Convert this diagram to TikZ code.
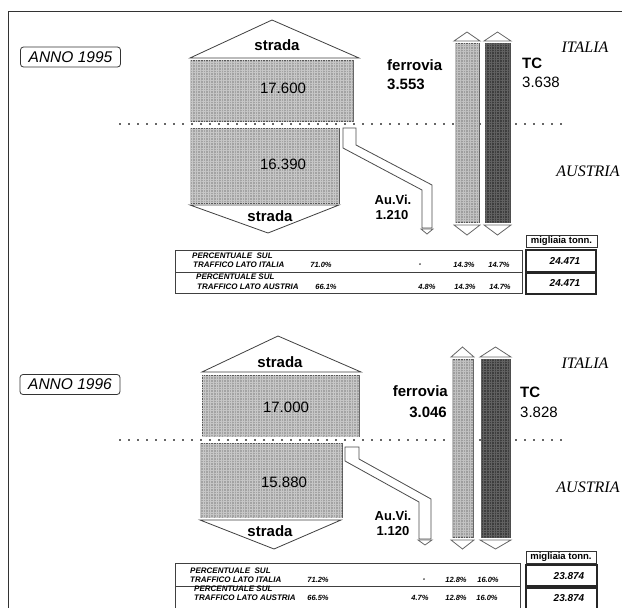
\documentclass[tikz,border=0pt]{standalone}
\usepackage{fontspec}
\setmainfont{Liberation Sans}
\newfontfamily\serifit{Liberation Serif}
\usetikzlibrary{patterns.meta}
\tikzset{
  road/.style={draw=black!65, line width=0.9pt, fill=black!36,
    postaction={pattern={Hatch[distance=2.6pt,angle=0,line width=0.4pt]}, pattern color=black!22}},
  ferbar/.style={draw=black!65, line width=0.9pt, fill=black!38,
    postaction={pattern={Hatch[distance=2.6pt,angle=0,line width=0.4pt]}, pattern color=black!24}},
  tcbar/.style={draw=black!70, line width=0.9pt, fill=black!76,
    postaction={pattern={Hatch[distance=2.6pt,angle=0,line width=0.4pt]}, pattern color=black!62}},
  tri/.style={draw=black!75, line width=0.8pt, fill=white},
  arrowtip/.style={draw=black!60, line width=0.8pt, fill=white},
  pipe/.style={draw=black!70, line width=0.8pt, fill=white},
  border/.style={draw=black!80, line width=0.8pt},
  dots/.style={draw=black!60, line width=1.1pt, dash pattern=on 1.5pt off 7.5pt},
  annobox/.style={draw=black!80, rounded corners=3pt, line width=0.8pt, minimum width=100pt, minimum height=20pt, inner sep=1pt, font=\fontsize{15.5}{16}\selectfont\itshape},
  big/.style={font=\fontsize{15}{15}\selectfont\bfseries, inner sep=0pt},
  num/.style={font=\fontsize{15}{15}\selectfont, inner sep=0pt},
  small/.style={font=\fontsize{13}{13}\selectfont\bfseries, inner sep=0pt},
  country/.style={font=\fontsize{16}{16}\selectfont\serifit\itshape, inner sep=0pt},
  tabtxt/.style={font=\fontsize{8}{8}\selectfont\bfseries\itshape, inner sep=0pt, anchor=west},
  pct/.style={font=\fontsize{7.5}{7.5}\selectfont\bfseries\itshape, inner sep=0pt},
  total/.style={font=\fontsize{10}{10}\selectfont\bfseries\itshape, inner sep=0pt},
  unitlbl/.style={font=\fontsize{9.5}{9.5}\selectfont\bfseries, inner sep=0pt},
  tabframe/.style={draw=black!75, line width=0.8pt},
  totframe/.style={draw=black!85, line width=1.2pt}
}
\begin{document}
\begin{tikzpicture}[x=1pt,y=-1pt]
\useasboundingbox (0,0) rectangle (622,608);
\fill[white] (0,0) rectangle (622,608);
% page frame
\draw[border] (8,608) -- (8,11) -- (622,11);

% ================= PANEL 1995 =================
\node[annobox] (anno1) at (70.5,57) {ANNO 1995};
\draw[dots] (119,124) -- (565,124);
\draw[tri] (190,58) -- (272,20) -- (359,58) -- cycle;
\draw[road] (190,60) rectangle (353,121);
\draw[road] (190,128) rectangle (339,203);
\draw[tri] (190,205) -- (268,233) -- (339,205) -- cycle;
\draw[pipe] (343,128) -- (343,148) -- (422,190) -- (422,228) -- (432,228) -- (432,185) -- (356,145) -- (356,128) -- cycle;
\draw[arrowtip] (421,229) -- (433,229) -- (427,234) -- cycle;
% bars
\draw[arrowtip] (454,41) -- (467,32) -- (480,41) -- cycle;
\draw[ferbar] (455,43) rectangle (479,222);
\draw[arrowtip] (454,225) -- (467,235) -- (480,225) -- cycle;
\draw[arrowtip] (484,41) -- (497.5,32) -- (511,41) -- cycle;
\draw[tcbar] (485,43) rectangle (510,222);
\draw[arrowtip] (484,225) -- (497.5,235) -- (511,225) -- cycle;
% labels
\node[big] (s1a) at (277,45) {strada};
\node[num] (v1a) at (283,88) {17.600};
\node[num] (v1b) at (283,164) {16.390};
\node[big] (s1b) at (270,216) {strada};
\node[small] (au1) at (393,200) {Au.Vi.};
\node[small] (au1v) at (392,215) {1.210};
\node[big, anchor=west] (fe1) at (387,65) {ferrovia};
\node[big, anchor=west] (fe1v) at (387,84) {3.553};
\node[big, anchor=west] (tc1) at (522,63) {TC};
\node[num, anchor=west] (tc1v) at (522,82) {3.638};
\node[country] (it1) at (585,47) {ITALIA};
\node[country] (at1) at (588,171) {AUSTRIA};
% table
\draw[tabframe] (175,250) rectangle (522,293);
\draw[tabframe] (175,272) -- (522,272);
\draw[border, line width=0.9pt] (526,235) rectangle (597,247);
\node[unitlbl] (u1) at (561.5,241) {migliaia tonn.};
\draw[totframe] (526,250) rectangle (596,272);
\draw[totframe] (526,273.5) rectangle (596,294);
\node[tabtxt] (r1a) at (192,256) {PERCENTUALE\ \ SUL};
\node[tabtxt] (r1b) at (193,265) {TRAFFICO\ LATO\ ITALIA};
\node[pct] (p11) at (321,265) {71.0\%};
\node[pct] (p12) at (420,265) {-};
\node[pct] (p13) at (464,265) {14.3\%};
\node[pct] (p14) at (499,265) {14.7\%};
\node[tabtxt] (r2a) at (196,277) {PERCENTUALE SUL};
\node[tabtxt] (r2b) at (197,287) {TRAFFICO\ LATO AUSTRIA};
\node[pct] (p21) at (326,287) {66.1\%};
\node[pct] (p22) at (427,287) {4.8\%};
\node[pct] (p23) at (465,287) {14.3\%};
\node[pct] (p24) at (500,287) {14.7\%};
\node[total] (t11) at (565,261) {24.471};
\node[total] (t12) at (565,283) {24.471};

% ================= PANEL 1996 =================
\node[annobox] (anno2) at (70,384.5) {ANNO 1996};
\draw[dots] (119,440) -- (563,440);
\draw[tri] (202,372) -- (278,336) -- (361,372) -- cycle;
\draw[road] (202,375) rectangle (359,436);
\draw[road] (200,443) rectangle (342,517);
\draw[tri] (200,520) -- (274,549) -- (341,520) -- cycle;
\draw[pipe] (345,447) -- (345,461) -- (419,502) -- (419,539) -- (431,539) -- (431,499) -- (359,459) -- (359,447) -- cycle;
\draw[arrowtip] (418,540) -- (432,540) -- (425,545) -- cycle;
% bars
\draw[arrowtip] (451,357) -- (462.5,347) -- (474,357) -- cycle;
\draw[ferbar] (452,359) rectangle (473,537);
\draw[arrowtip] (451,540) -- (462.5,549) -- (474,540) -- cycle;
\draw[arrowtip] (480,357) -- (495.5,347) -- (511,357) -- cycle;
\draw[tcbar] (481,359) rectangle (510,537);
\draw[arrowtip] (480,540) -- (495.5,549) -- (511,540) -- cycle;
% labels
\node[big] (s2a) at (280,362) {strada};
\node[num] (v2a) at (286,407) {17.000};
\node[num] (v2b) at (284,482) {15.880};
\node[big] (s2b) at (270,531) {strada};
\node[small] (au2) at (393,516) {Au.Vi.};
\node[small] (au2v) at (393,531) {1.120};
\node[big, anchor=east] (fe2) at (448,391) {ferrovia};
\node[big, anchor=east] (fe2v) at (447,412) {3.046};
\node[big, anchor=west] (tc2) at (520,392) {TC};
\node[num, anchor=west] (tc2v) at (520,412) {3.828};
\node[country] (it2) at (585,363) {ITALIA};
\node[country] (at2) at (588,487) {AUSTRIA};
% table
\draw[tabframe] (175,563) rectangle (520,612);
\draw[tabframe] (175,586) -- (520,586);
\draw[border, line width=0.9pt] (526,551) rectangle (596,563);
\node[unitlbl] (u2) at (561,557) {migliaia tonn.};
\draw[totframe] (526,565) rectangle (597,586);
\draw[totframe] (526,588) rectangle (597,612);
\node[tabtxt] (q1a) at (190,571) {PERCENTUALE\ \ SUL};
\node[tabtxt] (q1b) at (190,580) {TRAFFICO LATO ITALIA};
\node[pct] (o11) at (318,580) {71.2\%};
\node[pct] (o12) at (424,580) {-};
\node[pct] (o13) at (456,580) {12.8\%};
\node[pct] (o14) at (488,580) {16.0\%};
\node[tabtxt] (q2a) at (194,589) {PERCENTUALE SUL};
\node[tabtxt] (q2b) at (194,598) {TRAFFICO LATO AUSTRIA};
\node[pct] (o21) at (318,598) {66.5\%};
\node[pct] (o22) at (420,598) {4.7\%};
\node[pct] (o23) at (456,598) {12.8\%};
\node[pct] (o24) at (487,598) {16.0\%};
\node[total] (t21) at (569,576) {23.874};
\node[total] (t22) at (569,598) {23.874};
\end{tikzpicture}
\end{document}
